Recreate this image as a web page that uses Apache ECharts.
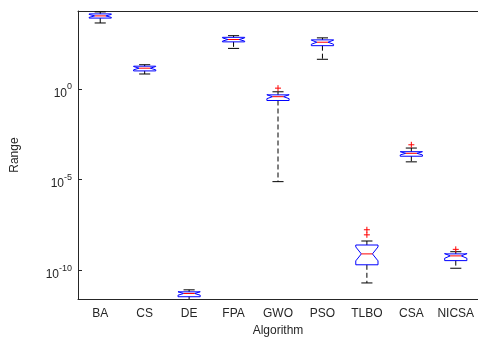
<!DOCTYPE html>
<html>
<head>
<meta charset="utf-8">
<script src="https://cdn.jsdelivr.net/npm/echarts@6/dist/echarts.min.js"></script>
<style>html,body{margin:0;padding:0;background:#fff;}#c{width:478px;height:342px;}</style>
</head>
<body>
<div id="c"></div>
<script>
// values are log10 of the range
const categories = ['BA','CS','DE','FPA','GWO','PSO','TLBO','CSA','NICSA'];
const whiskerLow  = [3.63, 0.82, -11.68, 2.23, -5.11, 1.63, -10.69, -4.02, -9.88];
const q1          = [3.90, 0.99, -11.45, 2.59, -0.64, 2.38, -9.69, -3.71, -9.46];
const median      = [4.02, 1.14, -11.27, 2.72, -0.43, 2.57, -9.09, -3.55, -9.20];
const q3          = [4.13, 1.25, -11.18, 2.84, -0.33, 2.70, -8.60, -3.46, -9.09];
const whiskerHigh = [4.24, 1.33, -11.07, 2.93, -0.16, 2.81, -8.38, -3.26, -8.97];
const outlierCat  = [4, 6, 6, 7, 8];
const outlierVal  = [0.04, -7.76, -8.04, -3.08, -8.84];
const yTickValues = [-10, -5, 0];
const sampleSize = 20;

const boxData = categories.map((c, i) => {
  const iqr = q3[i] - q1[i];
  const nh = 1.57 * iqr / Math.sqrt(sampleSize);
  return [i, whiskerLow[i], q1[i], median[i], q3[i], whiskerHigh[i], median[i] - nh, median[i] + nh];
});
const outlierData = outlierCat.map((c, i) => [c, outlierVal[i]]);

const chart = echarts.init(document.getElementById('c'), null, {renderer: 'canvas'});
const txt = '#262626';
const font = 'Liberation Sans, Arial, sans-serif';

function renderBox(params, api) {
  const x = api.value(0);
  const band = api.size([1, 0])[0];
  const hw = band * 0.25;
  const nw = hw * 0.5;
  const cx = api.coord([x, 0])[0];
  const y = v => api.coord([x, api.value(v)])[1];
  const yLo = y(1), yQ1 = y(2), yMed = y(3), yQ3 = y(4), yHi = y(5), yNLo = y(6), yNHi = y(7);
  const L = cx - hw, R = cx + hw;
  const pts = [[L, yQ3], [R, yQ3], [R, yNHi], [cx + nw, yMed], [R, yNLo], [R, yQ1], [L, yQ1], [L, yNLo], [cx - nw, yMed], [L, yNHi]];
  const cw = hw * 0.5;
  return {
    type: 'group',
    children: [
      {type: 'line', shape: {x1: cx, y1: yQ3, x2: cx, y2: yHi}, style: {stroke: '#000', lineWidth: 1, lineDash: [5, 3]}},
      {type: 'line', shape: {x1: cx, y1: yQ1, x2: cx, y2: yLo}, style: {stroke: '#000', lineWidth: 1, lineDash: [5, 3]}},
      {type: 'line', shape: {x1: cx - cw, y1: yHi, x2: cx + cw, y2: yHi}, style: {stroke: '#000', lineWidth: 1}},
      {type: 'line', shape: {x1: cx - cw, y1: yLo, x2: cx + cw, y2: yLo}, style: {stroke: '#000', lineWidth: 1}},
      {type: 'polygon', shape: {points: pts}, style: {fill: 'none', stroke: '#0000ff', lineWidth: 1}},
      {type: 'line', shape: {x1: cx - nw, y1: yMed, x2: cx + nw, y2: yMed}, style: {stroke: '#ff0000', lineWidth: 1}}
    ]
  };
}

function renderOutlier(params, api) {
  const p = api.coord([api.value(0), api.value(1)]);
  const s = 3;
  return {
    type: 'group',
    children: [
      {type: 'line', shape: {x1: p[0] - s, y1: p[1], x2: p[0] + s, y2: p[1]}, style: {stroke: '#ff0000', lineWidth: 1}},
      {type: 'line', shape: {x1: p[0], y1: p[1] - s, x2: p[0], y2: p[1] + s}, style: {stroke: '#ff0000', lineWidth: 1}}
    ]
  };
}

chart.setOption({
  animation: false,
  backgroundColor: '#fff',
  grid: {left: 78, top: 11, width: 405, height: 292, containLabel: false},
  xAxis: [{
    type: 'category', data: categories, position: 'bottom', boundaryGap: true,
    name: 'Algorithm', nameLocation: 'middle', nameGap: 25,
    nameTextStyle: {color: txt, fontSize: 12, fontFamily: font},
    axisLine: {onZero: false, lineStyle: {color: txt, width: 1}},
    axisTick: {inside: true, alignWithLabel: true, length: 4, lineStyle: {color: txt}},
    axisLabel: {color: txt, fontSize: 12, fontFamily: font, margin: 9, interval: 0},
    splitLine: {show: false}
  }, {
    type: 'category', data: categories, position: 'top', boundaryGap: true,
    axisLine: {onZero: false, lineStyle: {color: txt, width: 1}},
    axisTick: {inside: true, alignWithLabel: true, length: 4, lineStyle: {color: txt}},
    axisLabel: {show: false},
    splitLine: {show: false}
  }],
  yAxis: {
    type: 'value', min: -11.58, max: 4.29,
    name: 'Range', nameLocation: 'middle', nameGap: 57,
    nameTextStyle: {color: txt, fontSize: 12, fontFamily: font},
    axisLine: {show: true, onZero: false, lineStyle: {color: txt, width: 1}},
    axisTick: {show: true, inside: true, length: 4, customValues: yTickValues, lineStyle: {color: txt}},
    axisLabel: {
      color: txt, fontFamily: font, margin: 6, customValues: yTickValues,
      formatter: v => '{b|10}{s|' + Math.round(v) + '}',
      rich: {
        b: {fontSize: 12, fontFamily: font, color: txt, padding: [9, 0, 0, 0]},
        s: {fontSize: 9, fontFamily: font, color: txt, padding: [0, 0, 4, 0]}
      }
    },
    splitLine: {show: false}
  },
  series: [{
    type: 'custom', renderItem: renderBox, data: boxData, clip: true,
    encode: {x: 0, y: [1, 2, 3, 4, 5]}, z: 5
  }, {
    type: 'custom', renderItem: renderOutlier, data: outlierData, clip: true,
    encode: {x: 0, y: 1}, z: 6
  }]
});
</script>
</body>
</html>
